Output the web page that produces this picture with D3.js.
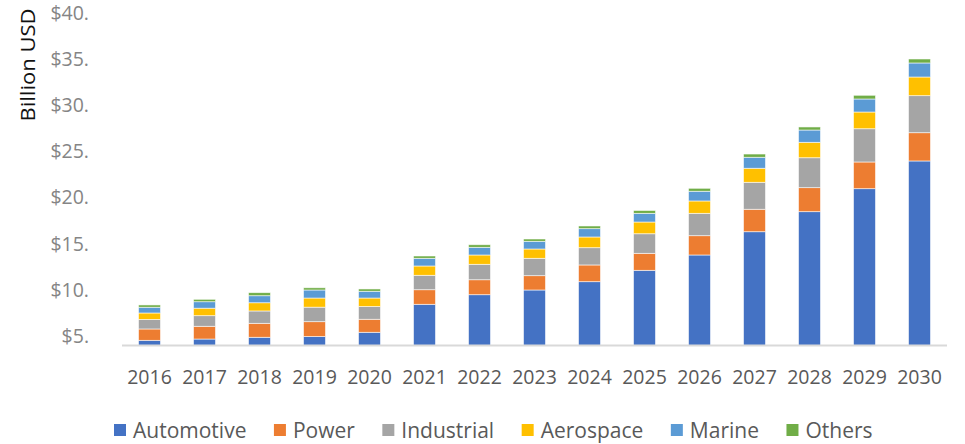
<!DOCTYPE html>
<html>
<head>
<meta charset="utf-8">
<script src="https://cdn.jsdelivr.net/npm/d3@7"></script>
<style>
  html, body { margin: 0; padding: 0; background: #fff; }
  svg { display: block; }
  text { font-family: "Open Sans", "Noto Sans", sans-serif; }
</style>
</head>
<body>
<svg id="chart" width="965" height="444"></svg>
<script>
// ---- Data (Billion USD) ----
const years = ["2016","2017","2018","2019","2020","2021","2022","2023","2024","2025","2026","2027","2028","2029","2030"];
const seriesNames = ["Automotive","Power","Industrial","Aerospace","Marine","Others"];
const automotive = [4.56, 4.70, 4.89, 4.97, 5.43, 8.46, 9.50, 10.01, 10.91, 12.14, 13.80, 16.32, 18.49, 20.98, 23.98];
const power      = [1.23, 1.38, 1.51, 1.61, 1.41, 1.58, 1.62, 1.55, 1.81, 1.84, 2.09, 2.43, 2.60, 2.89, 3.06];
const industrial = [1.03, 1.15, 1.34, 1.57, 1.38, 1.56, 1.67, 1.88, 1.87, 2.12, 2.42, 2.92, 3.24, 3.60, 4.01];
const aerospace  = [0.70, 0.81, 0.89, 0.99, 0.92, 1.01, 1.01, 1.01, 1.16, 1.27, 1.34, 1.52, 1.67, 1.81, 2.02];
const marine     = [0.62, 0.70, 0.76, 0.87, 0.73, 0.83, 0.83, 0.83, 0.90, 0.94, 1.05, 1.19, 1.33, 1.41, 1.52];
const others     = [0.25, 0.26, 0.33, 0.24, 0.25, 0.25, 0.28, 0.25, 0.29, 0.31, 0.32, 0.35, 0.33, 0.40, 0.43];
const yTicks = [5, 10, 15, 20, 25, 30, 35, 40];
const colors = ["#4472C4", "#ED7D31", "#A5A5A5", "#FFC000", "#5B9BD5", "#70AD47"];

const seriesValues = [automotive, power, industrial, aerospace, marine, others];
const table = years.map((yr, i) => {
  const row = { year: yr };
  seriesNames.forEach((s, k) => row[s] = seriesValues[k][i]);
  return row;
});

const svg = d3.select("#chart");
const plot = { left: 122, right: 947, top: 13, bottom: 345.5 };

const x = d3.scaleBand().domain(years).range([plot.left, plot.right])
  .paddingInner(0.6).paddingOuter(0.3);
const y = d3.scaleLinear().domain([4, 40]).range([plot.bottom, plot.top]).clamp(true);

const stacked = d3.stack().keys(seriesNames)(table);

// bars
svg.append("g").selectAll("g.series")
  .data(stacked).join("g")
  .attr("class", "series")
  .attr("fill", (d, i) => colors[i])
  .selectAll("rect")
  .data(d => d).join("rect")
  .attr("x", d => x(d.data.year))
  .attr("width", x.bandwidth())
  .attr("y", d => y(d[1]))
  .attr("height", d => Math.max(0, y(d[0]) - y(d[1])))
  .attr("stroke", "#ffffff")
  .attr("stroke-opacity", 0.7)
  .attr("stroke-width", 0.8);

// baseline
svg.append("line")
  .attr("x1", plot.left).attr("x2", plot.right)
  .attr("y1", plot.bottom).attr("y2", plot.bottom)
  .attr("stroke", "#d9d9d9").attr("stroke-width", 2);

// y axis labels
const yAxis = d3.axisLeft(y).tickValues(yTicks).tickSize(0).tickPadding(0)
  .tickFormat(d => "$" + d + ".");
const gy = svg.append("g").attr("transform", "translate(89,0)").call(yAxis);
gy.select(".domain").remove();
gy.selectAll("text")
  .attr("font-family", "'Open Sans', sans-serif")
  .attr("font-size", 19.5)
  .attr("fill", "#858585");

// x axis labels
const xAxis = d3.axisBottom(x).tickSize(0).tickPadding(0);
const gx = svg.append("g").attr("transform", `translate(0,${plot.bottom})`).call(xAxis);
gx.select(".domain").remove();
gx.selectAll("text")
  .attr("font-family", "'Open Sans', sans-serif")
  .attr("font-size", 19.5)
  .attr("fill", "#595959")
  .attr("dy", null)
  .attr("y", 38.5);

// y axis title
svg.append("text")
  .attr("transform", "translate(35,65) rotate(-90)")
  .attr("text-anchor", "middle")
  .attr("font-size", 20.5)
  .attr("textLength", 113)
  .attr("lengthAdjust", "spacingAndGlyphs")
  .attr("fill", "#111")
  .text("Billion USD");

// legend
const legend = svg.append("g").attr("transform", "translate(114,0)");
let lx = 0;
seriesNames.forEach((name, i) => {
  const g = legend.append("g").attr("transform", `translate(${lx},0)`);
  g.append("rect").attr("x", 0).attr("y", 424).attr("width", 12).attr("height", 12)
    .attr("fill", colors[i]);
  const t = g.append("text").attr("x", 19).attr("y", 438)
    .attr("font-size", 21).attr("fill", "#595959").text(name);
  const w = t.node().getComputedTextLength();
  lx += 19 + w + 27.5;
});
</script>
</body>
</html>
